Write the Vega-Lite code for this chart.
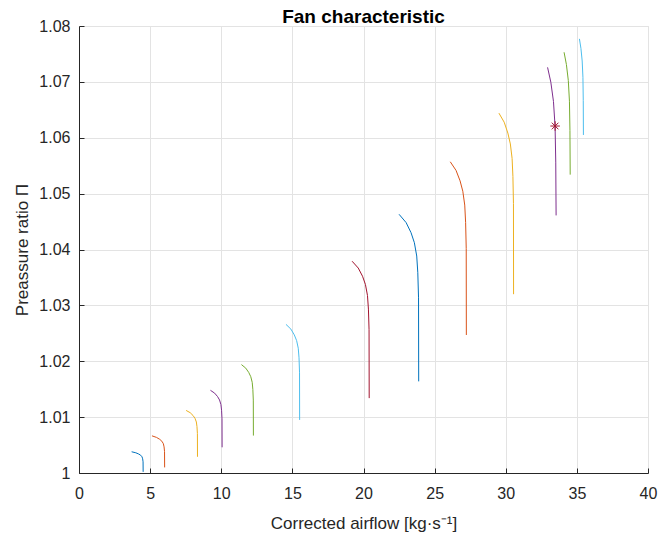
{
  "$schema": "https://vega.github.io/schema/vega-lite/v6.json",
  "autosize": "none",
  "padding": {"left": 79, "top": 26, "right": 12, "bottom": 67},
  "width": 569,
  "height": 447,
  "background": "white",
  "config": {
    "font": "Liberation Sans",
    "view": {"stroke": "#dedede", "strokeWidth": 1},
    "axis": {
      "labelFont": "Liberation Sans",
      "titleFont": "Liberation Sans",
      "labelFontSize": 16,
      "titleFontSize": 17,
      "titleFontWeight": "normal",
      "labelColor": "#262626",
      "titleColor": "#262626",
      "domainColor": "#262626",
      "tickColor": "#262626",
      "gridColor": "#e3e3e3",
      "grid": true,
      "tickSize": -5,
      "labelFlush": false
    },
    "title": {"font": "Liberation Sans", "fontSize": 19, "fontWeight": "bold", "color": "#000000"}
  },
  "title": {"text": "Fan characteristic", "anchor": "middle", "frame": "group", "baseline": "bottom", "offset": 6, "dy": 34},
  "datasets": {
    "curves": [
      {"c": 1, "x": 3.700, "y": 1.0038},
      {"c": 1, "x": 3.992, "y": 1.00362},
      {"c": 1, "x": 4.194, "y": 1.00340},
      {"c": 1, "x": 4.332, "y": 1.00319},
      {"c": 1, "x": 4.429, "y": 1.0029},
      {"c": 1, "x": 4.474, "y": 1.00254},
      {"c": 1, "x": 4.504, "y": 1.0020},
      {"c": 1, "x": 4.510, "y": 1.0002},
      {"c": 2, "x": 5.130, "y": 1.00665},
      {"c": 2, "x": 5.450, "y": 1.00637},
      {"c": 2, "x": 5.673, "y": 1.00603},
      {"c": 2, "x": 5.824, "y": 1.00569},
      {"c": 2, "x": 5.931, "y": 1.00524},
      {"c": 2, "x": 5.980, "y": 1.00467},
      {"c": 2, "x": 6.013, "y": 1.00383},
      {"c": 2, "x": 6.020, "y": 1.0010},
      {"c": 3, "x": 7.530, "y": 1.0112},
      {"c": 3, "x": 7.818, "y": 1.01079},
      {"c": 3, "x": 8.018, "y": 1.01029},
      {"c": 3, "x": 8.154, "y": 1.00979},
      {"c": 3, "x": 8.250, "y": 1.00913},
      {"c": 3, "x": 8.294, "y": 1.0083},
      {"c": 3, "x": 8.324, "y": 1.00705},
      {"c": 3, "x": 8.330, "y": 1.0029},
      {"c": 4, "x": 9.240, "y": 1.0148},
      {"c": 4, "x": 9.535, "y": 1.01429},
      {"c": 4, "x": 9.740, "y": 1.01368},
      {"c": 4, "x": 9.880, "y": 1.01307},
      {"c": 4, "x": 9.978, "y": 1.01225},
      {"c": 4, "x": 10.023, "y": 1.01123},
      {"c": 4, "x": 10.053, "y": 1.0097},
      {"c": 4, "x": 10.060, "y": 1.0046},
      {"c": 5, "x": 11.420, "y": 1.0194},
      {"c": 5, "x": 11.722, "y": 1.01877},
      {"c": 5, "x": 11.932, "y": 1.018},
      {"c": 5, "x": 12.075, "y": 1.01724},
      {"c": 5, "x": 12.176, "y": 1.01623},
      {"c": 5, "x": 12.222, "y": 1.01496},
      {"c": 5, "x": 12.253, "y": 1.01305},
      {"c": 5, "x": 12.260, "y": 1.0067},
      {"c": 6, "x": 14.550, "y": 1.0266},
      {"c": 6, "x": 14.896, "y": 1.02575},
      {"c": 6, "x": 15.136, "y": 1.02472},
      {"c": 6, "x": 15.299, "y": 1.02369},
      {"c": 6, "x": 15.414, "y": 1.02233},
      {"c": 6, "x": 15.467, "y": 1.02062},
      {"c": 6, "x": 15.502, "y": 1.01805},
      {"c": 6, "x": 15.510, "y": 1.0095},
      {"c": 7, "x": 19.200, "y": 1.0379},
      {"c": 7, "x": 19.632, "y": 1.03668},
      {"c": 7, "x": 19.932, "y": 1.03521},
      {"c": 7, "x": 20.136, "y": 1.03374},
      {"c": 7, "x": 20.280, "y": 1.03178},
      {"c": 7, "x": 20.346, "y": 1.02933},
      {"c": 7, "x": 20.390, "y": 1.02565},
      {"c": 7, "x": 20.400, "y": 1.0134},
      {"c": 8, "x": 22.500, "y": 1.0463},
      {"c": 8, "x": 22.997, "y": 1.04481},
      {"c": 8, "x": 23.342, "y": 1.04301},
      {"c": 8, "x": 23.576, "y": 1.04122},
      {"c": 8, "x": 23.742, "y": 1.03883},
      {"c": 8, "x": 23.818, "y": 1.03584},
      {"c": 8, "x": 23.869, "y": 1.03135},
      {"c": 8, "x": 23.880, "y": 1.0164},
      {"c": 9, "x": 26.100, "y": 1.0557},
      {"c": 9, "x": 26.507, "y": 1.05415},
      {"c": 9, "x": 26.789, "y": 1.05229},
      {"c": 9, "x": 26.981, "y": 1.05043},
      {"c": 9, "x": 27.117, "y": 1.04795},
      {"c": 9, "x": 27.179, "y": 1.04485},
      {"c": 9, "x": 27.221, "y": 1.0402},
      {"c": 9, "x": 27.230, "y": 1.0247},
      {"c": 10, "x": 29.520, "y": 1.0644},
      {"c": 10, "x": 29.891, "y": 1.06278},
      {"c": 10, "x": 30.148, "y": 1.06084},
      {"c": 10, "x": 30.323, "y": 1.05889},
      {"c": 10, "x": 30.447, "y": 1.0563},
      {"c": 10, "x": 30.504, "y": 1.05306},
      {"c": 10, "x": 30.542, "y": 1.0482},
      {"c": 10, "x": 30.550, "y": 1.0320},
      {"c": 11, "x": 32.940, "y": 1.0726},
      {"c": 11, "x": 33.168, "y": 1.06995},
      {"c": 11, "x": 33.354, "y": 1.06651},
      {"c": 11, "x": 33.468, "y": 1.062},
      {"c": 11, "x": 33.516, "y": 1.05564},
      {"c": 11, "x": 33.540, "y": 1.0461},
      {"c": 12, "x": 34.100, "y": 1.0753},
      {"c": 12, "x": 34.263, "y": 1.07311},
      {"c": 12, "x": 34.397, "y": 1.07026},
      {"c": 12, "x": 34.478, "y": 1.06654},
      {"c": 12, "x": 34.513, "y": 1.06128},
      {"c": 12, "x": 34.530, "y": 1.0534},
      {"c": 13, "x": 35.180, "y": 1.0777},
      {"c": 13, "x": 35.286, "y": 1.07598},
      {"c": 13, "x": 35.373, "y": 1.07374},
      {"c": 13, "x": 35.426, "y": 1.07082},
      {"c": 13, "x": 35.449, "y": 1.06669},
      {"c": 13, "x": 35.460, "y": 1.0605}
    ],
    "op": [
      {"x": 33.47, "y": 1.0621}
    ]
  },
  "layer": [
    {
      "data": {"name": "curves"},
      "mark": {"type": "line", "strokeWidth": 1, "clip": true},
      "encoding": {
        "x": {
          "field": "x", "type": "quantitative",
          "scale": {"domain": [0, 40], "nice": false, "zero": false},
          "axis": {"values": [0, 5, 10, 15, 20, 25, 30, 35, 40], "title": "Corrected airflow [kg·s⁻¹]", "labelPadding": 17, "titlePadding": 14, "format": "d"}
        },
        "y": {
          "field": "y", "type": "quantitative",
          "scale": {"domain": [1, 1.08], "nice": false, "zero": false},
          "axis": {"values": [1, 1.01, 1.02, 1.03, 1.04, 1.05, 1.06, 1.07, 1.08], "title": "Preassure ratio Π", "format": "~g", "labelPadding": 14, "titlePadding": 7}
        },
        "color": {
          "field": "c", "type": "nominal", "legend": null,
          "scale": {
            "domain": [1, 2, 3, 4, 5, 6, 7, 8, 9, 10, 11, 12, 13],
            "range": ["#0072BD", "#D95319", "#EDB120", "#7E2F8E", "#77AC30", "#4DBEEE", "#A2142F", "#0072BD", "#D95319", "#EDB120", "#7E2F8E", "#77AC30", "#4DBEEE"]
          }
        },
        "order": {"field": "y", "sort": "descending"}
      }
    },
    {
      "data": {"name": "op"},
      "mark": {
        "type": "point",
        "shape": "M-1,0L1,0M0,-1L0,1M-0.7,-0.7L0.7,0.7M-0.7,0.7L0.7,-0.7",
        "size": 90,
        "filled": false,
        "stroke": "#A2142F",
        "strokeWidth": 1,
        "opacity": 1
      },
      "encoding": {
        "x": {"field": "x", "type": "quantitative"},
        "y": {"field": "y", "type": "quantitative"}
      }
    }
  ]
}
